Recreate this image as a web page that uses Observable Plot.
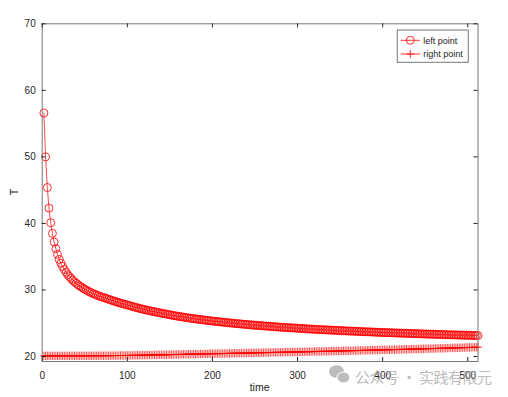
<!DOCTYPE html>
<html><head><meta charset="utf-8">
<script src="https://cdn.jsdelivr.net/npm/d3@7"></script>
<script src="https://cdn.jsdelivr.net/npm/@observablehq/plot@0.6"></script>
<style>html,body{margin:0;padding:0;background:#fff}</style>
</head><body><div id="chart"></div>
<script>
const time = [2,4,6,8,10,12,14,16,18,20,22,24,26,28,30,32,34,36,38,40,42,44,46,48,50,52,54,56,58,60,62,64,66,68,70,72,74,76,78,80,82,84,86,88,90,92,94,96,98,100,102,104,106,108,110,112,114,116,118,120,122,124,126,128,130,132,134,136,138,140,142,144,146,148,150,152,154,156,158,160,162,164,166,168,170,172,174,176,178,180,182,184,186,188,190,192,194,196,198,200,202,204,206,208,210,212,214,216,218,220,222,224,226,228,230,232,234,236,238,240,242,244,246,248,250,252,254,256,258,260,262,264,266,268,270,272,274,276,278,280,282,284,286,288,290,292,294,296,298,300,302,304,306,308,310,312,314,316,318,320,322,324,326,328,330,332,334,336,338,340,342,344,346,348,350,352,354,356,358,360,362,364,366,368,370,372,374,376,378,380,382,384,386,388,390,392,394,396,398,400,402,404,406,408,410,412,414,416,418,420,422,424,426,428,430,432,434,436,438,440,442,444,446,448,450,452,454,456,458,460,462,464,466,468,470,472,474,476,478,480,482,484,486,488,490,492,494,496,498,500,502,504,506,508,510,512];

const leftPoint = [56.6,50.0,45.4,42.3,40.1,38.5,37.2,36.2,35.35,34.6,
34.02,33.52,33.07,32.66,32.3,32.0,31.72,31.46,31.22,31.0,
30.80,30.61,30.43,30.26,30.1,29.96,29.82,29.69,29.57,29.45,
29.34,29.24,29.14,29.04,28.95,28.87,28.78,28.7,28.61,28.51,
28.43,28.34,28.26,28.18,28.10,28.03,27.96,27.88,27.82,27.75,
27.67,27.60,27.52,27.45,27.38,27.31,27.25,27.18,27.12,27.06,
27.00,26.94,26.89,26.83,26.78,26.73,26.67,26.62,26.56,26.51,
26.46,26.42,26.37,26.32,26.27,26.22,26.17,26.13,26.08,26.04,
26.00,25.96,25.92,25.88,25.84,25.80,25.76,25.72,25.69,25.65,
25.62,25.59,25.55,25.52,25.49,25.46,25.43,25.39,25.36,25.33,
25.30,25.27,25.25,25.22,25.19,25.16,25.13,25.11,25.08,25.05,
25.03,25.00,24.98,24.95,24.93,24.91,24.88,24.86,24.83,24.81,
24.79,24.77,24.75,24.73,24.70,24.68,24.66,24.64,24.62,24.60,
24.58,24.56,24.54,24.52,24.50,24.49,24.47,24.45,24.43,24.41,
24.39,24.38,24.36,24.35,24.33,24.31,24.30,24.28,24.27,24.25,
24.23,24.22,24.20,24.19,24.17,24.15,24.14,24.12,24.11,24.09,
24.08,24.06,24.05,24.04,24.02,24.01,24.00,23.99,23.97,23.96,
23.95,23.93,23.92,23.91,23.89,23.88,23.87,23.86,23.84,23.83,
23.82,23.81,23.80,23.79,23.78,23.76,23.75,23.74,23.73,23.72,
23.71,23.70,23.69,23.68,23.67,23.65,23.64,23.63,23.62,23.61,
23.60,23.59,23.58,23.57,23.57,23.56,23.55,23.54,23.53,23.52,
23.51,23.50,23.49,23.48,23.48,23.47,23.46,23.45,23.44,23.43,
23.42,23.41,23.40,23.39,23.39,23.38,23.37,23.36,23.35,23.34,
23.33,23.32,23.32,23.31,23.30,23.29,23.28,23.28,23.27,23.26,
23.25,23.25,23.24,23.23,23.22,23.22,23.21,23.20,23.20,23.19,
23.18,23.18,23.17,23.16,23.16,23.15];

const rightPoint = [20.10,20.10,20.10,20.10,20.10,20.10,20.10,20.10,20.10,20.10,
20.10,20.10,20.10,20.10,20.10,20.10,20.10,20.10,20.10,20.10,
20.10,20.10,20.10,20.10,20.11,20.11,20.11,20.11,20.11,20.11,
20.11,20.11,20.12,20.12,20.12,20.12,20.12,20.13,20.13,20.13,
20.13,20.14,20.14,20.14,20.15,20.15,20.15,20.15,20.16,20.16,
20.16,20.17,20.17,20.18,20.18,20.18,20.19,20.19,20.20,20.20,
20.21,20.21,20.22,20.22,20.23,20.23,20.24,20.24,20.25,20.25,
20.26,20.26,20.27,20.27,20.28,20.29,20.29,20.30,20.30,20.31,
20.31,20.32,20.32,20.33,20.34,20.34,20.35,20.35,20.36,20.36,
20.37,20.37,20.38,20.39,20.39,20.40,20.40,20.41,20.41,20.42,
20.42,20.43,20.43,20.44,20.44,20.45,20.45,20.46,20.46,20.47,
20.48,20.48,20.49,20.49,20.50,20.50,20.51,20.51,20.52,20.52,
20.53,20.54,20.54,20.55,20.55,20.56,20.56,20.57,20.57,20.58,
20.59,20.59,20.60,20.60,20.61,20.61,20.62,20.62,20.63,20.63,
20.64,20.65,20.65,20.66,20.66,20.67,20.67,20.68,20.68,20.69,
20.70,20.70,20.71,20.71,20.72,20.72,20.73,20.73,20.74,20.74,
20.75,20.76,20.76,20.77,20.77,20.78,20.78,20.79,20.79,20.80,
20.81,20.81,20.82,20.83,20.83,20.84,20.85,20.85,20.86,20.87,
20.87,20.88,20.88,20.89,20.90,20.90,20.91,20.92,20.92,20.93,
20.94,20.94,20.95,20.96,20.96,20.97,20.98,20.98,20.99,21.00,
21.00,21.01,21.01,21.02,21.03,21.03,21.04,21.05,21.05,21.06,
21.07,21.07,21.08,21.09,21.09,21.10,21.11,21.12,21.12,21.13,
21.14,21.14,21.15,21.16,21.17,21.17,21.18,21.19,21.19,21.20,
21.21,21.22,21.22,21.23,21.24,21.25,21.25,21.26,21.27,21.28,
21.28,21.29,21.30,21.31,21.32,21.32,21.33,21.34,21.35,21.35,
21.36,21.37,21.38,21.38,21.39,21.40];

const xTicks = [0, 100, 200, 300, 400, 500];
const yTicks = [20, 30, 40, 50, 60, 70];
const seriesNames = ["left point", "right point"];
const xLabel = "time";
const yLabel = "T";
const watermark = "公众号 · 实践有限元";

if (time.length !== leftPoint.length || time.length !== rightPoint.length) {
  throw new Error(`length mismatch: time ${time.length}, left ${leftPoint.length}, right ${rightPoint.length}`);
}

const left = time.map((t, i) => ({t, T: leftPoint[i]}));
const right = time.map((t, i) => ({t, T: rightPoint[i]}));

// stroked plus marker (Octave "+")
const plusSymbol = {
  draw(ctx, size) {
    const r = Math.sqrt(size / Math.PI);
    ctx.moveTo(-r, 0); ctx.lineTo(r, 0);
    ctx.moveTo(0, -r); ctx.lineTo(0, r);
  }
};

const W = 508, H = 397;
const mL = 41.7, mR = 30.5, mT = 23.3, mB = 36;
const pw = W - mL - mR, ph = H - mT - mB;
const red = "#ff0000";
const tickColor = "#262626";
const tickLen = 4;

const chart = Plot.plot({
  width: W, height: H,
  marginLeft: mL, marginRight: mR, marginTop: mT, marginBottom: mB,
  style: {fontFamily: "'Liberation Sans', Arial, sans-serif", fontSize: "10px", color: "#262626", background: "white", overflow: "visible"},
  x: {domain: [0, 512]},
  y: {domain: [19.25, 70]},
  marks: [
    Plot.line(right, {x: "t", y: "T", stroke: red, strokeWidth: 0.9}),
    Plot.dot(right, {x: "t", y: "T", symbol: plusSymbol, r: 4.2, stroke: red, strokeWidth: 0.7, fill: "none"}),
    Plot.line(left, {x: "t", y: "T", stroke: red, strokeWidth: 0.7}),
    Plot.dot(left, {x: "t", y: "T", r: 4, stroke: red, strokeWidth: 0.8, fill: "none"}),
    Plot.frame({stroke: "#777", strokeWidth: 1}),
    // inward ticks on all four sides
    Plot.tickX(xTicks, {x: d => d, stroke: tickColor, insetTop: ph - tickLen}),
    Plot.tickX(xTicks, {x: d => d, stroke: tickColor, insetBottom: ph - tickLen}),
    Plot.tickY(yTicks, {y: d => d, stroke: tickColor, insetRight: pw - tickLen}),
    Plot.tickY(yTicks, {y: d => d, stroke: tickColor, insetLeft: pw - tickLen}),
    Plot.axisX(xTicks, {anchor: "bottom", tickSize: 0, tickPadding: 10, label: null, fill: "#262626"}),
    Plot.axisY(yTicks, {anchor: "left", tickSize: 0, tickPadding: 6.5, label: null, fill: "#262626"})
  ]
});

const svg = d3.select(chart);

// axis labels
svg.append("text").text(xLabel)
  .attr("x", mL + pw / 2).attr("y", 391)
  .attr("text-anchor", "middle").attr("font-size", 10.5).attr("fill", "#262626");
svg.append("text").text(yLabel)
  .attr("transform", `translate(18, ${mT + ph / 2}) rotate(-90)`)
  .attr("text-anchor", "middle").attr("font-size", 10.5).attr("fill", "#262626");

// legend
const lg = svg.append("g").attr("transform", "translate(397.3,30)");
lg.append("rect").attr("width", 71).attr("height", 32.3)
  .attr("fill", "white").attr("stroke", "#777").attr("stroke-width", 1);
const rows = [{name: seriesNames[0], y: 10.3, sym: "circle"}, {name: seriesNames[1], y: 24, sym: "plus"}];
rows.forEach(r => {
  lg.append("line").attr("x1", 3.4).attr("x2", 22.7).attr("y1", r.y).attr("y2", r.y)
    .attr("stroke", red).attr("stroke-width", 0.8);
  if (r.sym === "circle") {
    lg.append("circle").attr("cx", 13).attr("cy", r.y).attr("r", 4)
      .attr("fill", "none").attr("stroke", red).attr("stroke-width", 0.8);
  } else {
    lg.append("path").attr("d", `M9,${r.y}H17M13,${r.y - 4}V${r.y + 4}`)
      .attr("stroke", red).attr("stroke-width", 0.8);
  }
  lg.append("text").text(r.name).attr("x", 26).attr("y", r.y + 3.2)
    .attr("text-anchor", "start").attr("font-size", 9).attr("fill", "#262626");
});

// watermark
const wm = svg.append("g").attr("opacity", 0.7);
const ic = wm.append("g").attr("fill", "#a0a0a0");
ic.append("ellipse").attr("cx", 336.5).attr("cy", 371.5).attr("rx", 7.5).attr("ry", 6.3);
ic.append("ellipse").attr("cx", 343.5).attr("cy", 377.5).attr("rx", 6.5).attr("ry", 5.5).attr("stroke", "white").attr("stroke-width", 1.2);
wm.append("text").text(watermark).attr("x", 355).attr("y", 382.5)
  .attr("text-anchor", "start")
  .attr("textLength", 137).attr("lengthAdjust", "spacing")
  .attr("font-family", "'Noto Sans CJK SC', sans-serif").attr("font-size", 15).attr("fill", "#a0a0a0");

document.getElementById("chart").appendChild(chart);
</script>
</body></html>
